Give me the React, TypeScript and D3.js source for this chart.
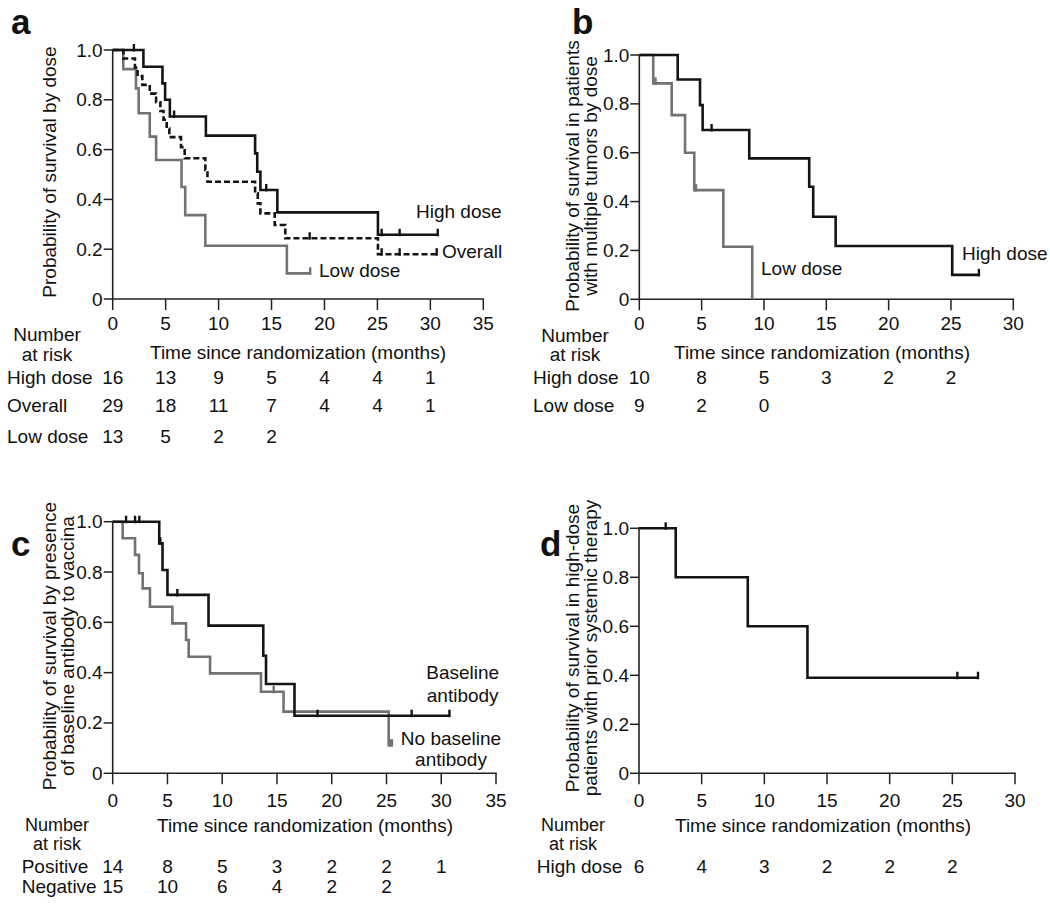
import React from "react";
import * as d3 from "d3";

// ---------- DATA ----------
// Each step: [time (months), survival after drop]
const A_HIGH_STEPS = [[2.9, 0.933], [4.7, 0.866], [4.95, 0.8], [5.4, 0.733], [8.8, 0.656], [13.45, 0.585], [13.65, 0.511], [13.95, 0.438], [15.55, 0.348], [25.05, 0.258]];
const A_HIGH_END = 30.7;
const A_HIGH_CENSOR = [2.0, 5.8, 14.5, 25.4, 27.1, 30.7];

const A_OVERALL_STEPS = [[1.0, 0.966], [2.1, 0.93], [2.35, 0.895], [2.8, 0.86], [3.5, 0.825], [4.1, 0.79], [4.5, 0.755], [4.8, 0.72], [5.1, 0.685], [5.35, 0.65], [6.45, 0.61], [6.8, 0.565], [8.75, 0.518], [8.95, 0.471], [13.45, 0.424], [13.7, 0.384], [13.95, 0.344], [15.3, 0.297], [16.3, 0.244], [25.05, 0.18]];
const A_OVERALL_END = 30.6;
const A_OVERALL_CENSOR = [18.6, 25.4, 27.1, 30.6];

const A_LOW_STEPS = [[1.0, 0.923], [2.2, 0.846], [2.45, 0.746], [3.5, 0.652], [4.1, 0.558], [6.5, 0.45], [6.85, 0.337], [8.75, 0.214], [16.45, 0.103]];
const A_LOW_END = 18.65;
const A_LOW_CENSOR = [18.65];

const B_HIGH_STEPS = [[3.08, 0.9], [4.87, 0.795], [5.08, 0.693], [8.82, 0.577], [13.63, 0.461], [13.95, 0.338], [15.75, 0.218], [25.1, 0.1]];
const B_HIGH_END = 27.24;
const B_HIGH_CENSOR = [5.8, 27.24];

const B_LOW_STEPS = [[1.12, 0.884], [2.6, 0.754], [3.67, 0.6], [4.41, 0.447], [6.74, 0.215], [9.06, 0]];
const B_LOW_END = 9.06;
const B_LOW_CENSOR = [1.3, 4.55];

const C_POS_STEPS = [[4.25, 0.914], [4.55, 0.808], [5.0, 0.709], [8.75, 0.587], [13.75, 0.467], [14.0, 0.355], [16.6, 0.229]];
const C_POS_END = 30.75;
const C_POS_CENSOR = [1.22, 2.04, 2.43, 4.35, 5.9, 18.7, 27.3, 30.75];

const C_NEG_STEPS = [[0.91, 0.934], [2.04, 0.868], [2.4, 0.795], [2.74, 0.735], [3.4, 0.662], [5.45, 0.596], [6.7, 0.53], [6.94, 0.463], [8.89, 0.397], [13.54, 0.324], [15.6, 0.245], [25.2, 0.112]];
const C_NEG_END = 25.5;
const C_NEG_CENSOR = [14.7, 25.3, 25.5];

const D_HIGH_STEPS = [[2.93, 0.8], [8.68, 0.6], [13.44, 0.39]];
const D_HIGH_END = 27.05;
const D_HIGH_CENSOR = [2.13, 25.4, 27.05];

const X_TICKS_35 = [0, 5, 10, 15, 20, 25, 30, 35];
const X_TICKS_30 = [0, 5, 10, 15, 20, 25, 30];
const Y_TICKS = [0, 0.2, 0.4, 0.6, 0.8, 1.0];

const A_RISK_HIGH = [16, 13, 9, 5, 4, 4, 1];
const A_RISK_OVERALL = [29, 18, 11, 7, 4, 4, 1];
const A_RISK_LOW = [13, 5, 2, 2];
const B_RISK_HIGH = [10, 8, 5, 3, 2, 2];
const B_RISK_LOW = [9, 2, 0];
const C_RISK_POS = [14, 8, 5, 3, 2, 2, 1];
const C_RISK_NEG = [15, 10, 6, 4, 2, 2];
const D_RISK_HIGH = [6, 4, 3, 2, 2, 2];

// ---------- STYLE ----------
const FONT = "'Liberation Sans', Arial, Helvetica, sans-serif";
const FS = 19;
const BLACK = "#141414";
const GRAY = "#727272";

type Curve = { steps: number[][]; end: number; censor: number[]; color: string; dash?: string };
type Label = { text: string; x: number; y: number; anchor?: string };
type RiskRow = { name: string; values: number[]; y: number };

type PanelCfg = {
  letter: string; lx: number; ly: number;
  x0: number; x1: number; xMax: number; xTicks: number[];
  yTop: number; yBot: number;
  titleLines: string[]; titleX: number[]; titleY: number;
  curves: Curve[];
  labels: Label[];
  numberX: number; numberY: number; atRiskY: number; numberFs: number; timeY: number; timeX: number;
  rowX: number; rows: RiskRow[]; tickLabelY: number;
};

function survAt(steps: number[][], t: number) {
  let s = 1;
  for (const [tt, ss] of steps) { if (tt <= t) s = ss; }
  return s;
}

function Panel({ cfg }: { cfg: PanelCfg }) {
  const x = d3.scaleLinear().domain([0, cfg.xMax]).range([cfg.x0, cfg.x1]);
  const y = d3.scaleLinear().domain([0, 1]).range([cfg.yBot, cfg.yTop]);
  const line = d3.line<number[]>().x(d => x(d[0])).y(d => y(d[1])).curve(d3.curveStepAfter);
  const tickLen = 9;
  return (
    <g fontFamily={FONT} fill="#111">
      <text x={cfg.lx} y={cfg.ly} fontSize={35} fontWeight="bold">{cfg.letter}</text>
      {/* axes */}
      <line x1={cfg.x0} x2={cfg.x0} y1={cfg.yTop - 1} y2={cfg.yBot} stroke="#222" strokeWidth={1.6} />
      <line x1={cfg.x0} x2={x(cfg.xMax) + 0.8} y1={cfg.yBot} y2={cfg.yBot} stroke="#222" strokeWidth={1.6} />
      {Y_TICKS.map(t => (
        <g key={"y" + t}>
          <line x1={cfg.x0 - tickLen} x2={cfg.x0} y1={y(t)} y2={y(t)} stroke="#222" strokeWidth={1.5} />
          <text x={cfg.x0 - 10} y={y(t) + 6.5} fontSize={FS} textAnchor="end">{t === 0 ? "0" : d3.format(".1f")(t)}</text>
        </g>
      ))}
      {cfg.xTicks.map(t => (
        <g key={"x" + t}>
          <line x1={x(t)} x2={x(t)} y1={cfg.yBot} y2={cfg.yBot + tickLen + 2} stroke="#222" strokeWidth={1.5} />
          <text x={x(t)} y={cfg.tickLabelY} fontSize={FS} textAnchor="middle">{t}</text>
        </g>
      ))}
      {/* y title */}
      {cfg.titleLines.map((l, i) => (
        <text key={"t" + i} transform={`translate(${cfg.titleX[i]},${cfg.titleY}) rotate(-90)`} fontSize={FS} textAnchor="middle">{l}</text>
      ))}
      {/* curves */}
      {cfg.curves.map((c, i) => {
        const pts = [[0, 1], ...c.steps, [c.end, c.steps[c.steps.length - 1][1]]];
        return (
          <g key={"c" + i}>
            <path d={line(pts) || ""} fill="none" stroke={c.color} strokeWidth={2.6} strokeDasharray={c.dash} strokeLinejoin="miter" strokeLinecap="butt" />
            {c.censor.map((t, j) => {
              const s = survAt(c.steps, t);
              return <line key={j} x1={x(t)} x2={x(t)} y1={y(s) - 6} y2={y(s) + 1.5} stroke={c.color} strokeWidth={2.4} />;
            })}
          </g>
        );
      })}
      {cfg.labels.map((l, i) => (
        <text key={"l" + i} x={l.x} y={l.y} fontSize={FS} textAnchor={l.anchor || "start"}>{l.text}</text>
      ))}
      {/* at risk table */}
      <text x={cfg.numberX} y={cfg.numberY} fontSize={cfg.numberFs} textAnchor="middle">Number</text>
      <text x={cfg.numberX} y={cfg.atRiskY} fontSize={cfg.numberFs} textAnchor="middle">at risk</text>
      <text x={cfg.timeX} y={cfg.timeY} fontSize={FS} textAnchor="middle">Time since randomization (months)</text>
      {cfg.rows.map((r, i) => (
        <g key={"r" + i}>
          <text x={cfg.rowX} y={r.y} fontSize={FS}>{r.name}</text>
          {r.values.map((v, j) => (
            <text key={j} x={x(cfg.xTicks[j])} y={r.y} fontSize={FS} textAnchor="middle">{v}</text>
          ))}
        </g>
      ))}
    </g>
  );
}

const panels: PanelCfg[] = [
  {
    letter: "a", lx: 11, ly: 34,
    x0: 112.7, x1: 483.3, xMax: 35, xTicks: X_TICKS_35, yTop: 50, yBot: 299,
    titleLines: ["Probability of survival by dose"], titleX: [56], titleY: 172,
    curves: [
      { steps: A_LOW_STEPS, end: A_LOW_END, censor: A_LOW_CENSOR, color: GRAY },
      { steps: A_OVERALL_STEPS, end: A_OVERALL_END, censor: A_OVERALL_CENSOR, color: BLACK, dash: "6,3" },
      { steps: A_HIGH_STEPS, end: A_HIGH_END, censor: A_HIGH_CENSOR, color: BLACK },
    ],
    labels: [
      { text: "High dose", x: 416, y: 218 },
      { text: "Overall", x: 442, y: 258 },
      { text: "Low dose", x: 319, y: 277 },
    ],
    numberX: 47, numberY: 341, atRiskY: 361, numberFs: FS, timeX: 298, timeY: 359,
    rowX: 7, tickLabelY: 330,
    rows: [
      { name: "High dose", values: A_RISK_HIGH, y: 384 },
      { name: "Overall", values: A_RISK_OVERALL, y: 412 },
      { name: "Low dose", values: A_RISK_LOW, y: 443 },
    ],
  },
  {
    letter: "b", lx: 572, ly: 34,
    x0: 639.3, x1: 1013.3, xMax: 30, xTicks: X_TICKS_30, yTop: 55, yBot: 299.3,
    titleLines: ["Probability of survival in patients", "with multiple tumors by dose"], titleX: [579, 597], titleY: 176,
    curves: [
      { steps: B_LOW_STEPS, end: B_LOW_END, censor: B_LOW_CENSOR, color: GRAY },
      { steps: B_HIGH_STEPS, end: B_HIGH_END, censor: B_HIGH_CENSOR, color: BLACK },
    ],
    labels: [
      { text: "High dose", x: 962, y: 260 },
      { text: "Low dose", x: 761, y: 275 },
    ],
    numberX: 575, numberY: 342, atRiskY: 361, numberFs: FS, timeX: 822, timeY: 359,
    rowX: 533, tickLabelY: 330,
    rows: [
      { name: "High dose", values: B_RISK_HIGH, y: 384 },
      { name: "Low dose", values: B_RISK_LOW, y: 411.5 },
    ],
  },
  {
    letter: "c", lx: 11, ly: 556,
    x0: 112.7, x1: 496, xMax: 35, xTicks: X_TICKS_35, yTop: 521.7, yBot: 773.3,
    titleLines: ["Probability of survival by presence", "of baseline antibody to vaccina"], titleX: [56, 74], titleY: 646,
    curves: [
      { steps: C_NEG_STEPS, end: C_NEG_END, censor: C_NEG_CENSOR, color: GRAY },
      { steps: C_POS_STEPS, end: C_POS_END, censor: C_POS_CENSOR, color: BLACK },
    ],
    labels: [
      { text: "Baseline", x: 462.7, y: 679, anchor: "middle" },
      { text: "antibody", x: 462.7, y: 701.7, anchor: "middle" },
      { text: "No baseline", x: 451, y: 745, anchor: "middle" },
      { text: "antibody", x: 451, y: 766, anchor: "middle" },
    ],
    numberX: 57, numberY: 831, atRiskY: 850, numberFs: 18, timeX: 305, timeY: 831.5,
    rowX: 21.7, tickLabelY: 806.5,
    rows: [
      { name: "Positive", values: C_RISK_POS, y: 873 },
      { name: "Negative", values: C_RISK_NEG, y: 892.5 },
    ],
  },
  {
    letter: "d", lx: 540, ly: 556,
    x0: 639, x1: 1015, xMax: 30, xTicks: X_TICKS_30, yTop: 528.3, yBot: 773.3,
    titleLines: ["Probability of survival in high-dose", "patients with prior systemic therapy"], titleX: [579, 597], titleY: 648,
    curves: [
      { steps: D_HIGH_STEPS, end: D_HIGH_END, censor: D_HIGH_CENSOR, color: BLACK },
    ],
    labels: [],
    numberX: 573, numberY: 831, atRiskY: 850, numberFs: 18, timeX: 823, timeY: 831.5,
    rowX: 536.7, tickLabelY: 806.5,
    rows: [
      { name: "High dose", values: D_RISK_HIGH, y: 873 },
    ],
  },
];

export default function App() {
  return (
    <svg width={1050} height={905} style={{ position: "absolute", left: 0, top: 0, background: "#fff" }}>
      <rect x={0} y={0} width={1050} height={905} fill="#fff" />
      {panels.map((p, i) => <Panel key={i} cfg={p} />)}
    </svg>
  );
}
